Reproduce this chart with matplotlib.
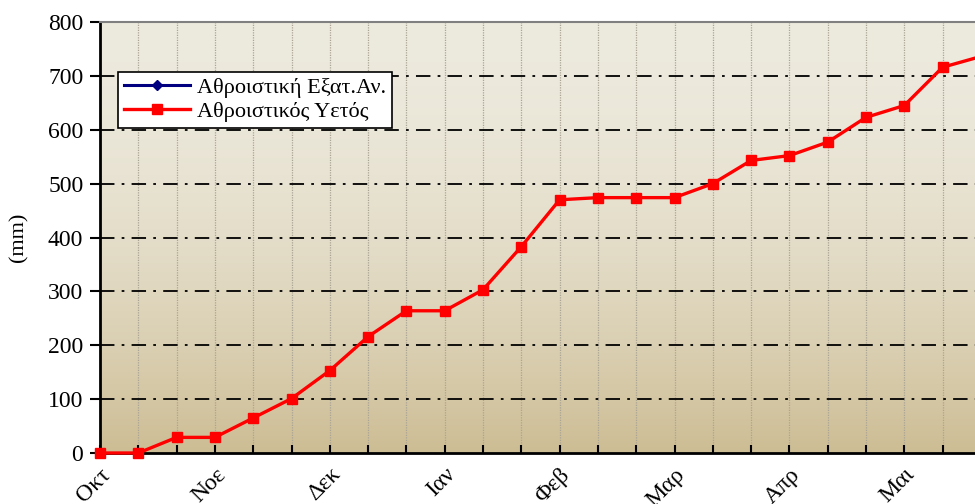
import matplotlib
matplotlib.use('Agg')
import matplotlib.pyplot as plt
import numpy as np

# Cumulative values per 10-day period (mm)
rain = [0, 0, 29, 29, 65, 101, 153, 216, 264, 264, 303, 383,
        470, 474, 474, 474, 500, 543, 552, 577, 623, 645, 716, 736]
evap = [0] + [np.nan] * (len(rain) - 1)
months = ['Οκτ', 'Νοε', 'Δεκ', 'Ιαν', 'Φεβ', 'Μαρ', 'Απρ', 'Μαι']

plt.rcParams['font.family'] = ['Liberation Serif', 'DejaVu Serif']

W, H = 975, 504
fig = plt.figure(figsize=(W / 100, H / 100), dpi=100)
# axes: left 100px, top 22px, bottom 453px; extends past right edge
n = len(rain)
step = 38.3
left, top, bottom = 100, 22, 453
ax = fig.add_axes([left / W, (H - bottom) / H, n * step / W, (bottom - top) / H])

x = np.arange(n)

# background gradient (light at top, tan at bottom)
grad = np.linspace(0, 1, 256).reshape(-1, 1)
top_c = np.array([237, 234, 222]) / 255
bot_c = np.array([205, 189, 148]) / 255
g = grad[..., None] ** 1.8
img = top_c * (1 - g) + bot_c * g
ax.imshow(img, extent=[0, n, 0, 800], origin='upper', aspect='auto', zorder=0)
ax.set_xlim(0, n)
ax.set_ylim(0, 800)

# grids
for xv in range(1, n + 1):
    ax.axvline(xv, color='#aaa495', lw=0.9, ls=(0, (1, 1)), zorder=1)
for yv in range(100, 800, 100):
    ax.axhline(yv, color='black', lw=1.3, ls=(0, (8, 4, 1.5, 4)), zorder=1)

ax.plot(x, evap, color='#000080', lw=2.2, marker='D', ms=5, label='Αθροιστική Εξατ.Αν.', zorder=3)
ax.plot(x, rain, color='#ff0000', lw=2.4, marker='s', ms=7, label='Αθροιστικός Υετός', zorder=4,
        clip_on=False)

ax.set_xticks(x, minor=True)
ax.set_xticks(x[::3])
ax.set_xticklabels(months, rotation=45, ha='right', va='top', rotation_mode='anchor', fontsize=17)
ax.tick_params(axis='x', which='both', direction='in', length=6, width=1.5, pad=8)
ax.set_yticks(range(0, 801, 100))
ax.tick_params(axis='y', direction='out', length=7, width=1.5, labelsize=17, pad=5)
ax.set_ylabel('(mm)', fontsize=16, labelpad=14)

for s in ['left', 'bottom']:
    ax.spines[s].set_linewidth(2)
    ax.spines[s].set_color('black')
ax.spines['top'].set_color('#808080')
ax.spines['top'].set_linewidth(1.5)
ax.spines['right'].set_visible(False)

leg = ax.legend(loc='upper left', bbox_to_anchor=(18 / (n * step), 0.884), fontsize=16,
                frameon=True, fancybox=False, framealpha=1, edgecolor='black',
                borderpad=0.25, labelspacing=0.15, handlelength=3, handletextpad=0.3,
                borderaxespad=0)
leg.get_frame().set_linewidth(1.2)
leg.set_zorder(5)

fig.savefig('out.png', dpi=100)
